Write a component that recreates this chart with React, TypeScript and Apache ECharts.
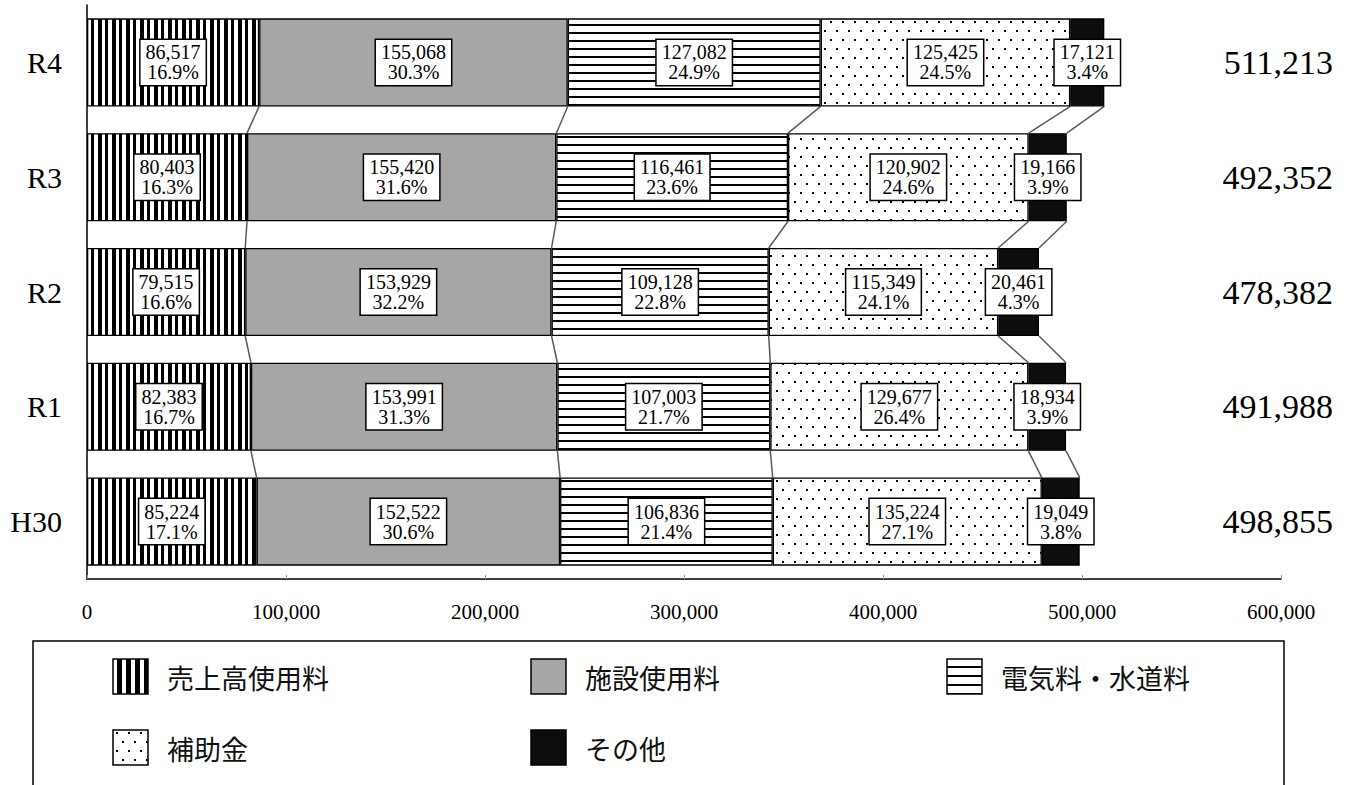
import React, { useEffect, useRef } from "react";
import * as echarts from "echarts";

const CATEGORIES = ["H30", "R1", "R2", "R3", "R4"];
const SERIES_NAMES = ["売上高使用料", "施設使用料", "電気料・水道料", "補助金", "その他"];
const SALES = [85224, 82383, 79515, 80403, 86517];
const FACILITY = [152522, 153991, 153929, 155420, 155068];
const UTILITY = [106836, 107003, 109128, 116461, 127082];
const SUBSIDY = [135224, 129677, 115349, 120902, 125425];
const OTHER = [19049, 18934, 20461, 19166, 17121];
const SALES_PCT = ["17.1", "16.7", "16.6", "16.3", "16.9"];
const FACILITY_PCT = ["30.6", "31.3", "32.2", "31.6", "30.3"];
const UTILITY_PCT = ["21.4", "21.7", "22.8", "23.6", "24.9"];
const SUBSIDY_PCT = ["27.1", "26.4", "24.1", "24.6", "24.5"];
const OTHER_PCT = ["3.8", "3.9", "4.3", "3.9", "3.4"];
const TOTALS = [498855, 491988, 478382, 492352, 511213];
const X_MIN = 0;
const X_MAX = 600000;
const X_INTERVAL = 100000;

const BAR_RATIO = 0.767;
const SERIF = "'Liberation Serif', 'Times New Roman', serif";
const CJK = "'Noto Sans CJK JP', 'Noto Sans', sans-serif";

const fmt = (v: number) => v.toLocaleString("en-US");

function makePattern(w: number, h: number, draw: (ctx: CanvasRenderingContext2D) => void) {
  const c = document.createElement("canvas");
  c.width = w;
  c.height = h;
  const ctx = c.getContext("2d")!;
  ctx.fillStyle = "#ffffff";
  ctx.fillRect(0, 0, w, h);
  ctx.fillStyle = "#000000";
  draw(ctx);
  return { image: c, repeat: "repeat", imageWidth: w, imageHeight: h } as any;
}

export default function App() {
  const ref = useRef<HTMLDivElement>(null);

  useEffect(() => {
    if (!ref.current) return;
    const chart = echarts.init(ref.current, undefined, { renderer: "svg" });

    const vStripe = makePattern(14, 7, (ctx) => {
      ctx.fillRect(0, 0, 4, 7);
      ctx.fillRect(7, 0, 3, 7);
    });
    const hStripe = makePattern(8, 8, (ctx) => ctx.fillRect(0, 0, 8, 2));
    const dots = makePattern(12, 18, (ctx) => {
      ctx.fillRect(2, 3, 2, 2);
      ctx.fillRect(8, 12, 2, 2);
    });
    const vStripeLegend = makePattern(9, 9, (ctx) => ctx.fillRect(0, 0, 5, 9));
    const hStripeLegend = makePattern(9, 9, (ctx) => ctx.fillRect(0, 0, 9, 2));
    const GRAY = "#a6a6a6";
    const BLACK = "#0d0d0d";

    const values = [SALES, FACILITY, UTILITY, SUBSIDY, OTHER];
    const pcts = [SALES_PCT, FACILITY_PCT, UTILITY_PCT, SUBSIDY_PCT, OTHER_PCT];
    const fills = [vStripe, GRAY, hStripe, dots, BLACK];
    const legendFills = [vStripeLegend, GRAY, hStripeLegend, dots, BLACK];

    const cums = CATEGORIES.map((_, ci) => {
      let s = 0;
      return values.map((arr) => (s += arr[ci]));
    });
    const connectorData = CATEGORIES.slice(0, -1).map((_, ci) => [
      ci,
      ...cums[ci],
      ...cums[ci + 1],
    ]);

    const barSeries = values.map((arr, si) => ({
      name: SERIES_NAMES[si],
      type: "bar",
      stack: "total",
      barWidth: BAR_RATIO * 100 + "%",
      data: arr,
      itemStyle: {
        color: fills[si],
        borderColor: "#000",
        borderWidth: 1.3,
      },
      label: {
        show: true,
        position: "inside",
        formatter: (p: any) => `${fmt(arr[p.dataIndex])}\n${pcts[si][p.dataIndex]}%`,
        fontFamily: SERIF,
        fontSize: 20,
        lineHeight: 20,
        color: "#000",
        backgroundColor: "#fff",
        borderColor: "#000",
        borderWidth: 1.5,
        padding: [3, 5, 2, 5],
      },
      emphasis: { disabled: true },
      z: 3,
    }));

    const connectorSeries = {
      type: "custom",
      silent: true,
      z: 2,
      encode: { x: 1, y: 0 },
      data: connectorData,
      renderItem: (params: any, api: any) => {
        const ci = params.dataIndex;
        const band = api.size([0, 1])[1];
        const half = (band * BAR_RATIO) / 2;
        const lowerTop = api.coord([0, ci])[1] - half;
        const upperBottom = api.coord([0, ci + 1])[1] + half;
        const children: any[] = [];
        for (let k = 0; k < 5; k++) {
          const lx = api.coord([api.value(1 + k), ci])[0];
          const ux = api.coord([api.value(6 + k), ci + 1])[0];
          children.push({
            type: "line",
            shape: { x1: ux, y1: upperBottom, x2: lx, y2: lowerTop },
            style: { stroke: "#5a5a5a", lineWidth: 1.5 },
          });
        }
        return { type: "group", children };
      },
    };

    const legendPos = [
      [113, 659],
      [531, 659],
      [947, 659],
      [113, 730],
      [531, 730],
    ];
    const legendGraphics: any[] = [
      {
        type: "rect",
        shape: { x: 33, y: 641, width: 1251, height: 200 },
        style: { fill: "none", stroke: "#000", lineWidth: 1.5 },
        silent: true,
      },
    ];
    SERIES_NAMES.forEach((name, i) => {
      const [x, y] = legendPos[i];
      legendGraphics.push({
        type: "rect",
        shape: { x, y, width: 35, height: 35 },
        style: { fill: legendFills[i], stroke: "#000", lineWidth: 1.5 },
        silent: true,
      });
      legendGraphics.push({
        type: "text",
        x: x + 54,
        y: y + 18,
        style: {
          text: name,
          font: `27px ${CJK}`,
          fill: "#111",
          verticalAlign: "middle",
        },
        silent: true,
      });
    });

    chart.setOption({
      animation: false,
      backgroundColor: "#fff",
      grid: { left: 87, right: 73, top: 5, bottom: 206, containLabel: false },
      xAxis: {
        type: "value",
        min: X_MIN,
        max: X_MAX,
        interval: X_INTERVAL,
        axisLine: { show: true, lineStyle: { color: "#000", width: 1.5 } },
        axisTick: { show: true, inside: true, length: 4, lineStyle: { color: "#999" } },
        splitLine: { show: false },
        axisLabel: {
          formatter: (v: number) => fmt(v),
          fontFamily: SERIF,
          fontSize: 21,
          color: "#000",
          margin: 22,
        },
      },
      yAxis: [
        {
          type: "category",
          data: CATEGORIES,
          axisLine: { show: true, lineStyle: { color: "#000", width: 1.5 } },
          axisTick: { show: false },
          axisLabel: { fontFamily: SERIF, fontSize: 30, color: "#000", margin: 25 },
        },
        {
          type: "category",
          position: "right",
          data: TOTALS.map(fmt),
          axisLine: { show: false },
          axisTick: { show: false },
          axisLabel: {
            fontFamily: SERIF,
            fontSize: 34,
            color: "#000",
            align: "right",
            margin: 52,
          },
        },
      ],
      series: [...barSeries, connectorSeries],
      graphic: legendGraphics,
    });

    return () => chart.dispose();
  }, []);

  return (
    <div
      ref={ref}
      style={{ position: "fixed", left: 0, top: 0, width: 1354, height: 785, background: "#fff" }}
    />
  );
}
